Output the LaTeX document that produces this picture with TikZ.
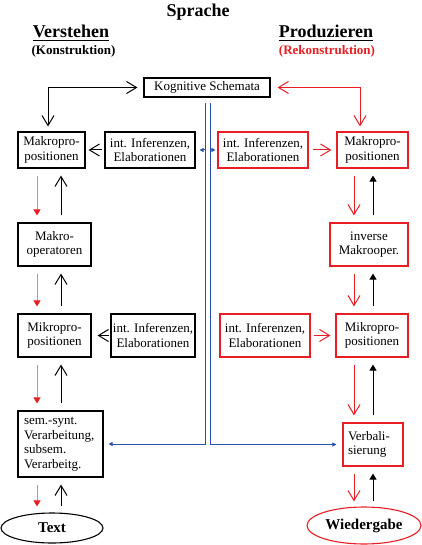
\documentclass[tikz,border=0pt]{standalone}
\usepackage{fontspec}
\setmainfont{Liberation Serif}
\usetikzlibrary{arrows.meta,calc,shapes.geometric}
\definecolor{cred}{RGB}{232,30,36}
\definecolor{cpink}{RGB}{242,125,130}
\definecolor{cblue}{RGB}{40,80,180}
\tikzset{
  box/.style={draw, line width=1.1pt, inner sep=0pt, align=center, font=\fontsize{13}{14.5}\selectfont},
  rbox/.style={box, draw=cred},
  title/.style={inner sep=0pt, font=\bfseries\fontsize{18}{18}\selectfont},
  subtitle/.style={inner sep=0pt, font=\bfseries\fontsize{13}{13}\selectfont},
  barb/.tip={Straight Barb[length=10pt,width=12pt,line width=1pt]},
  tri/.tip={Triangle[length=6pt,width=7pt]},
  blackopen/.style={draw=black, line width=1pt, -barb, shorten <=7pt, shorten >=7pt},
  redopen/.style={draw=cred, line width=1pt, -barb, shorten <=7pt, shorten >=7pt},
  redfill/.style={draw=cpink, line width=1pt, -{Triangle[length=6pt,width=7pt,color=cred]}, shorten <=7pt, shorten >=7pt},
  blackfill/.style={draw=black, line width=1pt, -tri, shorten <=7pt, shorten >=7pt},
  blueline/.style={draw=cblue, line width=1pt},
  bluearr/.style={draw=cblue, line width=1pt, -{Triangle[length=4pt,width=4pt]}}
}
\begin{document}
\begin{tikzpicture}[x=1pt,y=-1pt]
\useasboundingbox (0,0) rectangle (422,545);

% titles
\node[title] (spr) at (198,12) {Sprache};
\node[title, anchor=base] (vst) at (71,38) {Verstehen};
\node[subtitle, anchor=base] (kon) at (73.5,54.5) {(Konstruktion)};
\node[title, anchor=base] (prd) at (326,38) {Produzieren};
\node[subtitle, anchor=base, text=cred] (rek) at (327,54.5) {(Rekonstruktion)};
\draw[line width=1.1pt] ($(vst.base west)+(0,2.5)$) -- ($(vst.base east)+(0,2.5)$);
\draw[line width=1.1pt] ($(prd.base west)+(0,2.5)$) -- ($(prd.base east)+(0,2.5)$);

% boxes
\node[box, minimum width=126pt, minimum height=19pt] (kog) at (207,87.5) {Kognitive Schemata};

\node[box, minimum width=67pt, minimum height=36pt] (mkL) at (51.5,150) {Makropro-\\positionen};
\node[box, minimum width=90pt, minimum height=36pt] (infL1) at (150,150) {int. Inferenzen,\\Elaborationen};
\node[rbox, minimum width=90pt, minimum height=36pt] (infR1) at (263,150) {int. Inferenzen,\\Elaborationen};
\node[rbox, minimum width=71pt, minimum height=36pt] (mkR) at (372.5,150) {Makropro-\\positionen};

\node[box, minimum width=73pt, minimum height=43pt] (mopL) at (54.5,244.5) {Makro-\\operatoren};
\node[rbox, minimum width=78pt, minimum height=43pt] (invR) at (369,244.5) {inverse\\Makrooper.};

\node[box, minimum width=73pt, minimum height=43pt] (mikL) at (54.5,335.5) {Mikropro-\\positionen};
\node[box, minimum width=84pt, minimum height=43pt] (infL2) at (153,335.5) {int. Inferenzen,\\Elaborationen};
\node[rbox, minimum width=90pt, minimum height=43pt] (infR2) at (265,335.5) {int. Inferenzen,\\Elaborationen};
\node[rbox, minimum width=72pt, minimum height=43pt] (mikR) at (372,335.5) {Mikropro-\\positionen};

\node[box, align=left, text width=73pt, inner xsep=6pt, minimum height=66pt] (sem) at (60.5,444) {sem.-synt.\\Verarbeitung,\\subsem.\\Verarbeitg.};
\node[rbox, align=left, text width=50pt, inner xsep=5pt, minimum height=43pt] (verb) at (373,444.5) {Verbali-\\sierung};

\node[ellipse, draw, line width=1.1pt, inner sep=0pt, minimum width=102pt, minimum height=30pt, font=\bfseries\fontsize{15}{15}\selectfont] (txt) at (52,528) {Text};
\node[ellipse, draw=cred, line width=1.1pt, inner sep=0pt, minimum width=114pt, minimum height=37pt, font=\bfseries\fontsize{15}{15}\selectfont] (wied) at (364,525.5) {Wiedergabe};

% column coordinates
\coordinate (cLr) at (37,0);
\coordinate (cLb) at (61,0);
\coordinate (cRr) at (354,0);
\coordinate (cRb) at (373,0);
\coordinate (kx) at (48,0);
\coordinate (rx) at (360,0);
\coordinate (bl) at (205,103);
\coordinate (br) at (210,103);

% Kognitive Schemata connections
\draw[line width=1pt, barb-barb, shorten <=6pt, shorten >=5pt] (kog.west) -- (kog.west -| kx) -- (mkL.north -| kx);
\draw[draw=cred, line width=1pt, barb-barb, shorten <=7pt, shorten >=5pt] (kog.east) -- (kog.east -| rx) -- (mkR.north -| rx);

% horizontal arrows
\draw[line width=1pt, -barb, shorten <=2pt, shorten >=3pt] (infL1.west) -- (mkL.east);
\draw[line width=1pt, -barb, shorten <=1pt, shorten >=6pt] (infL2.west) -- (mikL.east);
\draw[draw=cred, line width=1pt, -barb, shorten <=4pt, shorten >=5pt] (infR1.east) -- (mkR.west);
\draw[draw=cred, line width=1pt, -barb, shorten <=3pt, shorten >=5pt] (infR2.east) -- (mikR.west);

% left column vertical arrows
\draw[redfill] (mkL.south -| cLr) -- (mopL.north -| cLr);
\draw[blackopen] (mopL.north -| cLb) -- (mkL.south -| cLb);
\draw[redfill] (mopL.south -| cLr) -- (mikL.north -| cLr);
\draw[blackopen] (mikL.north -| cLb) -- (mopL.south -| cLb);
\draw[redfill] (mikL.south -| cLr) -- (sem.north -| cLr);
\draw[blackopen] (sem.north -| cLb) -- (mikL.south -| cLb);
\draw[redfill, shorten >=6pt] (sem.south -| cLr) -- (txt.north -| cLr);
\draw[blackopen, shorten <=6pt] (txt.north -| cLb) -- (sem.south -| cLb);

% right column vertical arrows
\draw[redopen] (mkR.south -| cRr) -- (invR.north -| cRr);
\draw[blackfill] (invR.north -| cRb) -- (mkR.south -| cRb);
\draw[redopen] (invR.south -| cRr) -- (mikR.north -| cRr);
\draw[blackfill] (mikR.north -| cRb) -- (invR.south -| cRb);
\draw[redopen] (mikR.south -| cRr) -- (verb.north -| cRr);
\draw[blackfill] (verb.north -| cRb) -- (mikR.south -| cRb);
\draw[redopen, shorten >=5pt] (verb.south -| cRr) -- (wied.north -| cRr);
\draw[blackfill, shorten <=5pt] (wied.north -| cRb) -- (verb.south -| cRb);

% blue lines
\draw[bluearr, shorten >=5pt] (bl) -- (sem.east -| bl) -- (sem.east);
\draw[bluearr, shorten >=6pt] (br) -- (verb.west -| br) -- (verb.west);
\draw[bluearr, shorten >=4pt] (infL1.east -| bl) -- (infL1.east);
\draw[bluearr, shorten >=2pt] (infR1.west -| br) -- (infR1.west);
\end{tikzpicture}
\end{document}
